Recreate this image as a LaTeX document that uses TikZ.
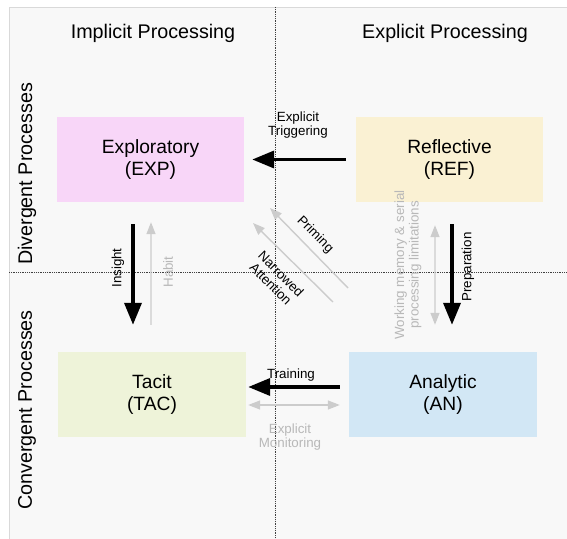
\documentclass[tikz,border=0pt]{standalone}
\usepackage{fontspec}
\setmainfont{Liberation Sans}
\usetikzlibrary{arrows.meta}
\definecolor{bgc}{HTML}{F8F8F8}
\definecolor{framec}{HTML}{D9D9D9}
\definecolor{expc}{HTML}{F8D6F8}
\definecolor{refc}{HTML}{FAF1D3}
\definecolor{tacc}{HTML}{EEF3D9}
\definecolor{anc}{HTML}{D2E7F5}
\definecolor{lightarr}{HTML}{CCCCCC}
\definecolor{lighttxt}{HTML}{B8B8B8}
\tikzset{
  box/.style={minimum width=187bp, minimum height=85bp, inner sep=0pt, align=center,
    font=\fontsize{19.3}{22.5}\selectfont},
  hdr/.style={font=\fontsize{19.8}{22}\selectfont},
  lbl/.style={font=\fontsize{13.4}{14.5}\selectfont, align=center, inner sep=1pt},
  glbl/.style={lbl, text=lighttxt},
  strong/.style={line width=3.6bp, -{Triangle[length=22bp,width=17bp]}},
  weak/.style={line width=1.4bp, draw=lightarr, -{Triangle[length=12bp,width=9bp]}},
  weakboth/.style={line width=1.4bp, draw=lightarr, {Triangle[length=12bp,width=9bp]}-{Triangle[length=12bp,width=9bp]}},
  divider/.style={densely dotted, line width=0.8bp, draw=black!75}
}
\begin{document}
\begin{tikzpicture}[x=1bp, y=-1bp]
\useasboundingbox (0,0) rectangle (567,539);
\fill[white] (0,0) rectangle (567,539);
\fill[bgc] (9,7) rectangle (567,539);
\draw[framec, line width=0.8bp] (9,539) -- (9,7) -- (567,7);
% dividers
\draw[divider] (275,7) -- (275,539);
\draw[divider] (9,272) -- (567,272);
% headers
\node[hdr] (himp) at (153,33) {Implicit Processing};
\node[hdr] (hexp) at (445,33) {Explicit Processing};
\node[hdr, rotate=90] (hdiv) at (27,174) {Divergent Processes};
\node[hdr, rotate=90] (hcon) at (27,410) {Convergent Processes};
% boxes
\node[box, fill=expc] (EXP) at (150.5,159.5) {Exploratory\\(EXP)};
\node[box, fill=refc] (REF) at (449.5,159.5) {Reflective\\(REF)};
\node[box, fill=tacc, minimum width=188bp] (TAC) at (152,394.5) {Tacit\\(TAC)};
\node[box, fill=anc, minimum width=188bp] (AN) at (443,394.5) {Analytic\\(AN)};
% explicit triggering
\draw[strong, shorten <=10bp, shorten >=8bp] (REF.west) -- (EXP.east);
\node[lbl] (ltrig) at (298,125) {Explicit\\Triggering};
% insight
\draw[strong, shorten <=22bp, shorten >=27bp] ([xshift=-17.5bp]EXP.south) -- ([xshift=-19bp]TAC.north);
\node[lbl, rotate=90] (lins) at (118,268) {Insight};
% habit
\draw[weak, shorten <=27bp, shorten >=20bp] ([xshift=-1bp]TAC.north) -- ([xshift=0.5bp]EXP.south);
\node[glbl, rotate=90] (lhab) at (168,272) {Habit};
% preparation
\draw[strong, shorten <=22bp, shorten >=27bp] ([xshift=2.5bp]REF.south) -- ([xshift=9bp]AN.north);
\node[lbl, rotate=90] (lprep) at (468,267) {Preparation};
% working memory
\draw[weakboth, shorten <=23bp, shorten >=27bp] ([xshift=-14.5bp]REF.south) -- ([xshift=-8bp]AN.north);
\node[glbl, rotate=90] (lwm) at (408,265) {Working memory \& serial\\processing limitations};
% training
\draw[strong, shorten <=9bp, shorten >=2bp] ([yshift=7.5bp]AN.west) -- ([yshift=7.5bp]TAC.east);
\node[lbl] (ltrain) at (291,375) {Training};
% explicit monitoring
\draw[weakboth, shorten <=9bp, shorten >=2bp] ([yshift=-10.5bp]AN.west) -- ([yshift=-10.5bp]TAC.east);
\node[glbl] (lmon) at (290,437) {Explicit\\Monitoring};
% diagonal arrows
\coordinate (pS) at (348,288);
\coordinate (pE) at (270,208);
\coordinate (nS) at (333,302);
\coordinate (nE) at (253,223);
\draw[weak] (pS) -- (pE);
\draw[weak] (nS) -- (nE);
\node[lbl, rotate=-45] (lprim) at (315,235) {Priming};
\node[lbl, rotate=-45] (lnar) at (276,279) {Narrowed\\Attention};
\end{tikzpicture}
\end{document}
